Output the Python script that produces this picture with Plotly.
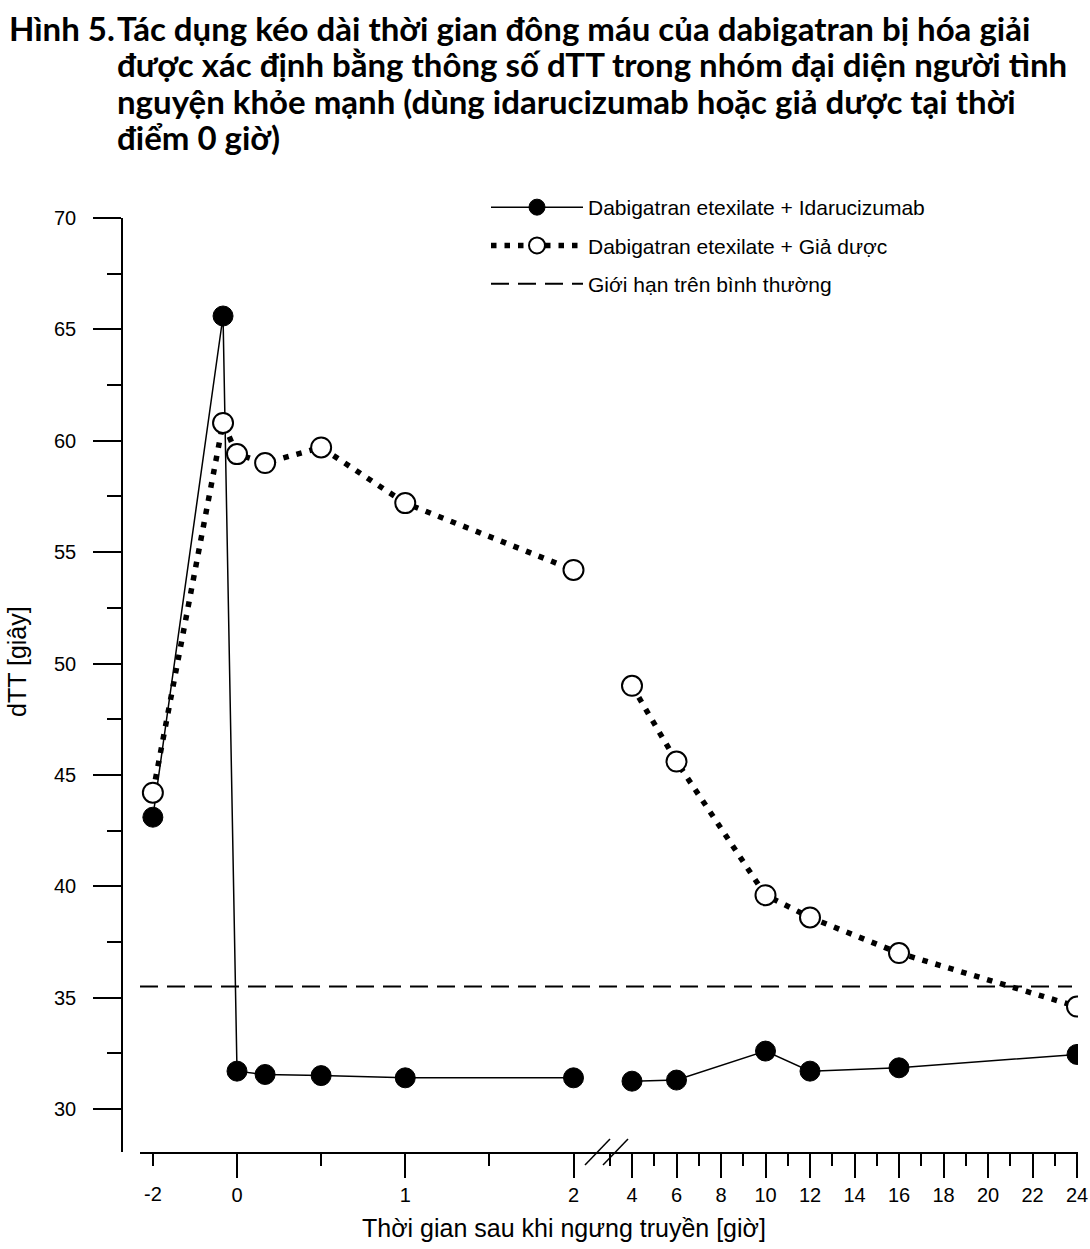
import plotly.graph_objects as go

# ---------------- data ----------------
# left panel: hours relative to end of infusion (pre-dose, -5 min, 0, 10 min, 30 min, 1 h, 2 h)
time_left = [-2, -0.083, 0, 0.167, 0.5, 1, 2]
idaru_left = [43.1, 65.6, 31.7, 31.55, 31.5, 31.4, 31.4]
placebo_left = [44.2, 60.8, 59.4, 59.0, 59.7, 57.2, 54.2]

# right panel (after the axis break)
time_right = [4, 6, 10, 12, 16, 24]
idaru_right = [31.25, 31.3, 32.6, 31.7, 31.85, 32.45]
placebo_right = [49.0, 45.6, 39.6, 38.6, 37.0, 34.6]

upper_normal = 35.5

left_ticks = [-2, 0, 1, 2]
left_tick_labels = ["-2", "0", "1", "2"]
left_minor = [0.5, 1.5]
right_ticks = list(range(4, 25, 2))
y_ticks = list(range(30, 71, 5))

name_idaru = "Dabigatran etexilate + Idarucizumab"
name_placebo = "Dabigatran etexilate + Giả dược"
name_limit = "Giới hạn trên bình thường"
title_lines = [
    "Tác dụng kéo dài thời gian đông máu của dabigatran bị hóa giải",
    "được xác định bằng thông số dTT trong nhóm đại diện người tình",
    "nguyện khỏe mạnh (dùng idarucizumab hoặc giả dược tại thời",
    "điểm 0 giờ)",
]
fig_label = "Hình 5."
x_title = "Thời gian sau khi ngưng truyền [giờ]"
y_title = "dTT [giây]"


# the pre-dose part of the left axis is drawn compressed (4x), as in the original
def left_pos(t):
    return t / 4 if t < -1 else t


# ---------------- layout geometry ----------------
W, H = 1090, 1249
PLOT_L, PLOT_R, PLOT_T, PLOT_B = 122, 1078, 218, 1152   # pixels of the plot box
ML, MR, MT, MB = PLOT_L, W - PLOT_R, PLOT_T, H - PLOT_B
PW, PH = PLOT_R - PLOT_L, PLOT_B - PLOT_T


def px(x):
    return (x - PLOT_L) / PW


def py(y):
    return (PLOT_B - y) / PH


x_left_start = px(140)
x_break = px(607)

AX_FONT = dict(family="Liberation Sans, Arial, sans-serif", size=20, color="black")
LABEL_FONT = dict(family="Liberation Sans, Arial, sans-serif", size=25, color="black")
TITLE_FONT = dict(family="Lato, Roboto, sans-serif", size=33, color="black", weight="bold")

fig = go.Figure()

lx = [left_pos(t) for t in time_left]

solid = dict(color="black", width=1.5)
dots = dict(color="black", width=5.5, dash="5.5px,8px")
filled_marker = dict(symbol="circle", size=20, color="black", line=dict(color="black", width=1))
open_marker = dict(symbol="circle", size=20, color="white", line=dict(color="black", width=2))

fig.add_trace(go.Scatter(x=lx, y=idaru_left, mode="lines+markers", name=name_idaru,
                         legendgroup="a", line=solid, marker=filled_marker,
                         xaxis="x", yaxis="y"))
fig.add_trace(go.Scatter(x=time_right, y=idaru_right, mode="lines+markers", name=name_idaru,
                         legendgroup="a", showlegend=False, line=solid, marker=filled_marker,
                         xaxis="x2", yaxis="y"))
fig.add_trace(go.Scatter(x=lx, y=placebo_left, mode="lines+markers", name=name_placebo,
                         legendgroup="b", line=dots, marker=open_marker,
                         xaxis="x", yaxis="y"))
fig.add_trace(go.Scatter(x=time_right, y=placebo_right, mode="lines+markers", name=name_placebo,
                         legendgroup="b", showlegend=False, line=dots, marker=open_marker,
                         xaxis="x2", yaxis="y"))
# empty trace registering the overlay axis that carries the "-2" label
fig.add_trace(go.Scatter(x=[], y=[], xaxis="x3", yaxis="y", showlegend=False))

# upper normal limit across the whole axis
fig.add_shape(type="line", xref="paper", yref="y", x0=x_left_start, x1=px(1072),
              y0=upper_normal, y1=upper_normal,
              line=dict(color="black", width=2, dash="18px,9px"),
              showlegend=True, name=name_limit, legendgroup="c", layer="below")

# axis-break marks
for dx in (-22, -4):
    fig.add_shape(type="line", xref="paper", yref="paper", xsizemode="pixel", ysizemode="pixel",
                  xanchor=x_break, yanchor=0, x0=dx, x1=dx + 25, y0=-13, y1=13,
                  line=dict(color="black", width=1.5))

LEFT_RANGE = [(140 - 237) / 168.25, (607 - 237) / 168.25]
RIGHT_RANGE = [4 - 25 / 22.25, 24 + 1 / 22.25]

common_x = dict(showline=True, linecolor="black", linewidth=1.5, showgrid=False, zeroline=False,
                ticks="outside", ticklen=24, tickwidth=1.5, tickcolor="black",
                tickfont=AX_FONT, anchor="y", ticklabelstandoff=0, automargin=False)

fig.update_layout(
    width=W, height=H,
    margin=dict(l=ML, r=MR, t=MT, b=MB, autoexpand=False),
    paper_bgcolor="white", plot_bgcolor="white",
    xaxis=dict(domain=[x_left_start, x_break], range=LEFT_RANGE,
               tickmode="array", tickvals=[left_pos(t) for t in left_ticks[1:]],
               ticktext=left_tick_labels[1:],
               minor=dict(tickvals=[left_pos(left_ticks[0])] + left_minor, ticks="outside",
                          ticklen=12, tickwidth=1.5, tickcolor="black"),
               **common_x),
    xaxis3=dict(overlaying="x", range=LEFT_RANGE, showline=False, showgrid=False,
                zeroline=False, ticks="outside", ticklen=24, tickcolor="rgba(0,0,0,0)",
                tickmode="array", tickvals=[left_pos(left_ticks[0])],
                ticktext=left_tick_labels[:1], tickfont=AX_FONT, anchor="y",
                side="bottom", ticklabelstandoff=0, automargin=False),
    xaxis2=dict(domain=[x_break, 1], range=RIGHT_RANGE,
                tickmode="array", tickvals=right_ticks,
                minor=dict(dtick=1, ticks="outside", ticklen=12, tickwidth=1.5, tickcolor="black"),
                **common_x),
    yaxis=dict(domain=[0, 1], range=[30 - (PLOT_B - 1109) / 22.28, 70], anchor="free", position=0,
               showline=True, linecolor="black", linewidth=1.5, showgrid=False, zeroline=False,
               ticks="outside", ticklen=28, tickwidth=1.5, tickcolor="black", automargin=False,
               tickmode="array", tickvals=y_ticks, tickfont=AX_FONT, ticklabelstandoff=13,
               minor=dict(dtick=2.5, ticks="outside", ticklen=14, tickwidth=1.5,
                          tickcolor="black")),
    showlegend=True,
    legend=dict(x=px(486), y=py(187), xanchor="left", yanchor="top", bgcolor="rgba(0,0,0,0)",
                font=dict(family="Liberation Sans, Arial, sans-serif", size=21, color="black"),
                itemwidth=92, tracegroupgap=8, itemsizing="trace"),
)

annotations = [
    dict(text=fig_label, x=px(7), y=py(28), xanchor="left", yanchor="middle", font=TITLE_FONT),
]
for i, line in enumerate(title_lines):
    annotations.append(dict(text=line, x=px(115), y=py(28 + 36.5 * i), xanchor="left",
                            yanchor="middle", font=TITLE_FONT))
annotations.append(dict(text=x_title, x=px(564), y=py(1228), xanchor="center", yanchor="middle",
                        font=LABEL_FONT))
annotations.append(dict(text=y_title, x=px(17), y=py(662), xanchor="center", yanchor="middle",
                        textangle=-90, font=LABEL_FONT))
for a in annotations:
    a.update(xref="paper", yref="paper", showarrow=False)
fig.update_layout(annotations=annotations)

# let the figure fill the page exactly (no body margin, no scrollbars)
page_fit = ("document.body.style.margin='0px';"
            "document.body.style.overflow='hidden';"
            "document.documentElement.style.overflow='hidden';")
fig.write_html("out.html", post_script=page_fit, config={"displayModeBar": False})
